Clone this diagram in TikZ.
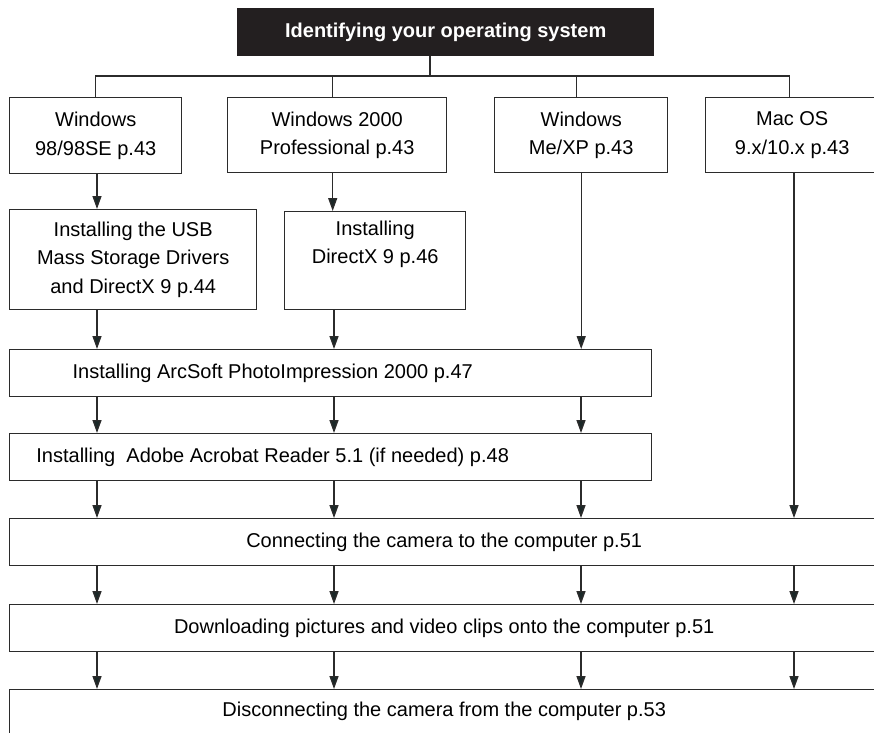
\documentclass[tikz,border=0pt]{standalone}
\usepackage{fontspec}
\setmainfont{Liberation Sans}
\usetikzlibrary{arrows.meta,positioning}
\definecolor{ink}{HTML}{2B2B2B}
\definecolor{tipfill}{HTML}{1B2828}
\definecolor{bannerfill}{HTML}{231F20}

\begin{document}
\begin{tikzpicture}[
    x=1pt, y=-1pt,
    box/.style={draw=ink, line width=1.4pt, inner sep=0pt, align=center,
                anchor=north west, font=\fontsize{20}{28.5}\selectfont},
    banner/.style={fill=bannerfill, text=white, inner sep=0pt,
                   anchor=north west, font=\fontsize{20}{24}\selectfont\bfseries},
    flow/.style={draw=ink, line width=1.4pt},
    arr/.style={flow, -{Triangle[length=13pt, width=9pt, fill=tipfill]}}
  ]
  \useasboundingbox (0,0) rectangle (874,732);
  \clip (0,0) rectangle (874,732);

  % title
  \node[banner, minimum width=417pt, minimum height=48pt] (ident) at (237,8)
    {Identifying your operating system};

  % operating systems
  \node[box, minimum width=172pt, minimum height=76pt] (w98) at (9,97)
    {Windows\\98/98SE p.43};
  \node[box, minimum width=219pt, minimum height=75pt] (w2k) at (227,97)
    {Windows 2000\\Professional p.43};
  \node[box, minimum width=173pt, minimum height=75pt] (wxp) at (494,97)
    {Windows\\Me/XP p.43};
  \node[box, minimum width=173pt, minimum height=75pt] (mac) at (705,97)
    {Mac OS\\9.x/10.x p.43};

  % drivers
  \node[box, minimum width=247pt, minimum height=100pt] (usb) at (9,209)
    {Installing the USB\\Mass Storage Drivers\\and DirectX 9 p.44};
  \node[box, minimum width=181pt, minimum height=98pt] (dx) at (284,211)
    {Installing\\DirectX 9 p.46\\\strut};

  % software
  \node[box, minimum width=642pt, minimum height=47pt] (arc) at (9,349)
    {\makebox[642pt][l]{\makebox[526pt]{Installing ArcSoft PhotoImpression 2000 p.47}}};
  \node[box, minimum width=642pt, minimum height=47pt] (acro) at (9,433)
    {\makebox[642pt][l]{\makebox[526pt]{Installing~ Adobe Acrobat Reader 5.1 (if needed) p.48}}};

  % camera
  \node[box, minimum width=869pt, minimum height=47pt] (conn) at (9,518)
    {Connecting the camera to the computer p.51};
  \node[box, minimum width=869pt, minimum height=47pt] (down) at (9,604)
    {Downloading pictures and video clips onto the computer p.51};
  \node[box, minimum width=869pt, text height=27pt, text depth=50pt] (disc) at (9,689)
    {Disconnecting the camera from the computer p.53};

  % branches
  \coordinate (tap) at (430,76);
  \coordinate (c1) at (97,0);
  \coordinate (c2) at (334,0);
  \coordinate (c3) at (581,0);
  \coordinate (c4) at (794,0);
  \draw[flow] (ident.south -| tap) -- (tap);
  \draw[flow] (w98.north) |- (tap) -| ([xshift=-2.5pt]mac.north);
  \draw[flow] ([xshift=-4.5pt]w2k.north) -- ([xshift=-4.5pt]w2k.north |- tap);
  \draw[flow] ([xshift=-4.5pt]wxp.north) -- ([xshift=-4.5pt]wxp.north |- tap);

  % arrows
  \draw[arr] (w98.south -| c1) -- (usb.north -| c1);
  \draw[arr] ([xshift=-4.5pt]w2k.south) -- ([xshift=-4.5pt]w2k.south |- dx.north);
  \draw[arr] (wxp.south) -- (wxp.south |- arc.north);
  \draw[arr] (usb.south -| c1) -- (arc.north -| c1);
  \draw[arr] (dx.south -| c2) -- (arc.north -| c2);
  \foreach \c in {c1,c2,c3}
    \draw[arr] (arc.south -| \c) -- (acro.north -| \c);
  \foreach \c in {c1,c2,c3}
    \draw[arr] (acro.south -| \c) -- (conn.north -| \c);
  \draw[arr] (mac.south -| c4) -- (conn.north -| c4);
  \foreach \c in {c1,c2,c3,c4}
    \draw[arr] (conn.south -| \c) -- (down.north -| \c);
  \foreach \c in {c1,c2,c3,c4}
    \draw[arr] (down.south -| \c) -- (disc.north -| \c);
\end{tikzpicture}
\end{document}
